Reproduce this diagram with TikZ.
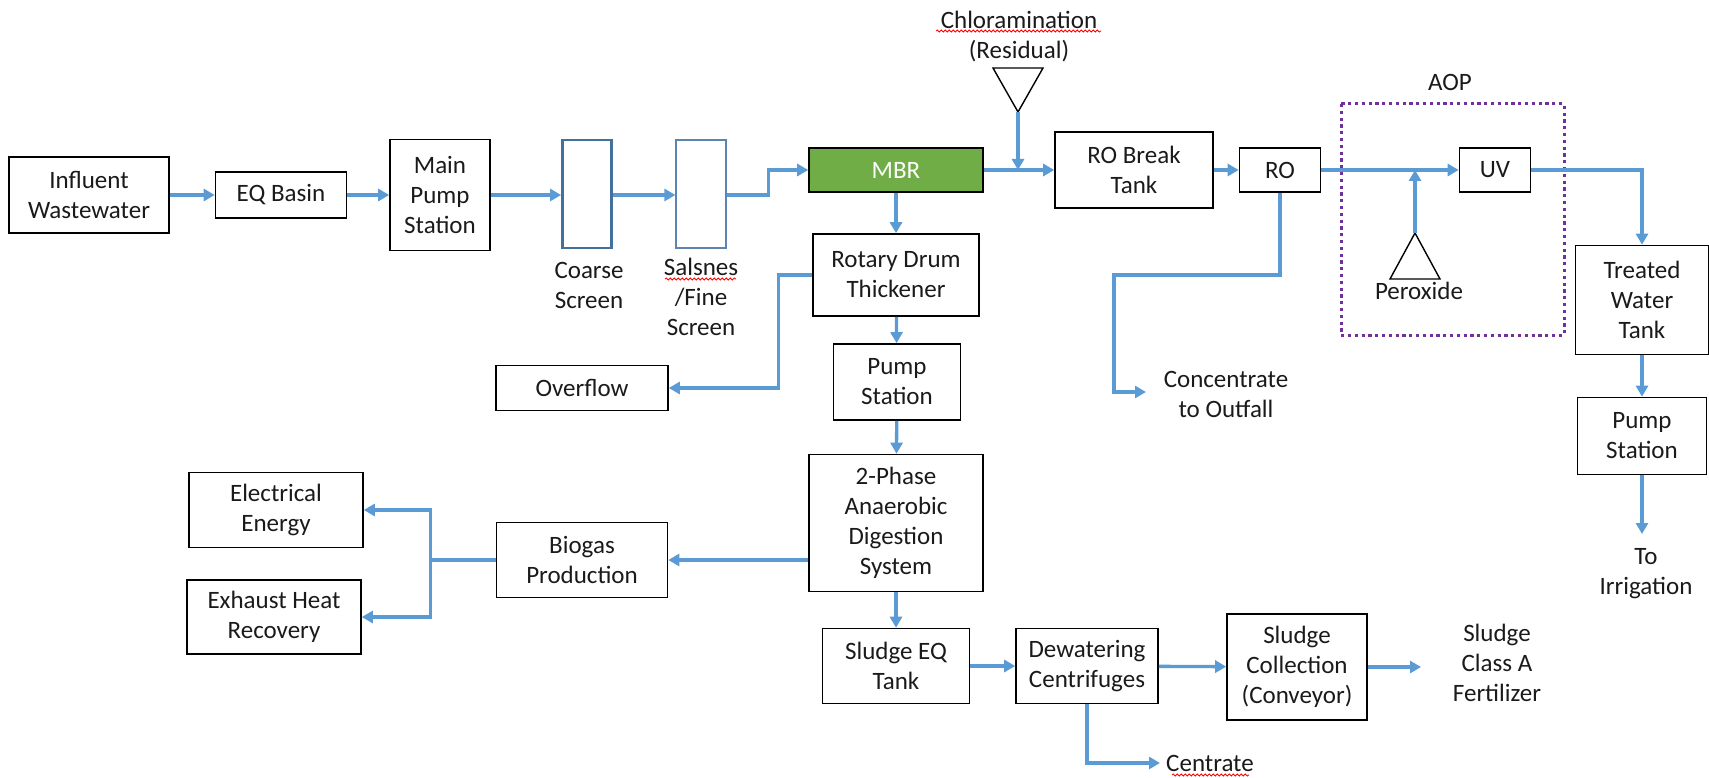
\documentclass[tikz,border=0pt]{standalone}
\usepackage{fontspec}
\setmainfont{Carlito}
\usetikzlibrary{arrows.meta,decorations.pathmorphing}
\definecolor{flowblue}{HTML}{5B9BD5}
\definecolor{screenblue}{HTML}{41719C}
\definecolor{finescreen}{HTML}{5B84B1}
\definecolor{mbrgreen}{HTML}{70AD47}
\definecolor{aoppurple}{HTML}{7030A0}
\definecolor{txt}{HTML}{1A1A1A}
\begin{document}
\begin{tikzpicture}[x=1pt,y=-1pt,
  font=\fontsize{25}{30}\selectfont, text=txt,
  box/.style={draw=black, line width=1.6pt, align=center, inner sep=2pt},
  flow/.style={draw=flowblue, line width=3.3pt, -{Triangle[length=11pt,width=12pt]}},
  lbl/.style={align=center, inner sep=0pt},
  tri/.style={draw=black, line width=1.4pt},
  squig/.style={draw=red, line width=0.8pt, decorate, decoration={snake, amplitude=1.1pt, segment length=4pt}}]
\useasboundingbox (0,0) rectangle (1709,778);

% top row
\node[box, minimum width=160pt, minimum height=76pt] (inf) at (89,195) {Influent\\Wastewater};
\node[box, minimum width=131pt, minimum height=46pt] (eq) at (281,195) {EQ Basin};
\node[box, minimum width=100pt, minimum height=111pt] (mps) at (440,195) {Main\\Pump\\Station};
\node[draw=screenblue, line width=2.8pt, minimum width=49pt, minimum height=108pt, inner sep=0pt] (cs) at (587,194) {};
\node[draw=finescreen, line width=1.2pt, minimum width=50pt, minimum height=108pt, inner sep=0pt] (fs) at (701,194) {};
\node[lbl] (csl) at (589,285) {Coarse\\Screen};
\node[lbl] (fsl) at (701,297) {Salsnes\\/Fine\\Screen};
\node[box, fill=mbrgreen, text=white, minimum width=174pt, minimum height=44pt] (mbr) at (896,170) {MBR};
\node[box, minimum width=158pt, minimum height=76pt] (robt) at (1134,170) {RO Break\\Tank};
\node[box, minimum width=81pt, minimum height=44pt] (ro) at (1280,170) {RO};
\node[box, minimum width=71pt, minimum height=44pt] (uv) at (1495,170) {UV};
\node[box, minimum width=133pt, minimum height=109pt] (tw) at (1642,300) {Treated\\Water\\Tank};
\node[box, minimum width=129pt, minimum height=77pt] (pr) at (1642,436) {Pump\\Station};
\node[lbl] (irr) at (1646,574) {To\\Irrigation};

% chloramination
\node[lbl] (chl) at (1019,37) {Chloramination\\(Residual)};
\draw[tri] (993,68) -- (1043,68) -- (1018,112) -- cycle;
\coordinate (chlapex) at (1018,112);

% AOP
\draw[aoppurple, line width=3pt, dash pattern=on 3.2pt off 3.6pt] (1341,104) rectangle (1564,335);
\node[lbl] (aop) at (1450,82) {AOP};
\draw[tri] (1415,233) -- (1440,279) -- (1390,279) -- cycle;
\coordinate (perapex) at (1415,233);
\node[lbl] (per) at (1419,291) {Peroxide};

% concentrate
\node[lbl] (conc) at (1226,394) {Concentrate\\to Outfall};
\coordinate (conctip) at (1146,392);

% solids train
\node[box, minimum width=166pt, minimum height=82pt] (rot) at (896,275) {Rotary Drum\\Thickener};
\node[box, minimum width=172pt, minimum height=45pt] (ovf) at (582,388) {Overflow};
\node[box, minimum width=127pt, minimum height=76pt] (pm) at (897,382) {Pump\\Station};
\node[box, minimum width=174pt, minimum height=137pt] (dig) at (896,523) {2-Phase\\Anaerobic\\Digestion\\System};
\node[box, minimum width=171pt, minimum height=75pt] (bio) at (582,560) {Biogas\\Production};
\node[box, minimum width=174pt, minimum height=75pt] (elec) at (276,510) {Electrical\\Energy};
\node[box, minimum width=174pt, minimum height=74pt] (exh) at (274,617) {Exhaust Heat\\Recovery};
\node[box, minimum width=147pt, minimum height=75pt] (seq) at (896,666) {Sludge EQ\\Tank};
\node[box, minimum width=142pt, minimum height=75pt] (dew) at (1087,666) {Dewatering\\Centrifuges};
\node[box, minimum width=140pt, minimum height=106pt] (col) at (1297,667) {Sludge\\Collection\\(Conveyor)};
\node[lbl] (fert) at (1497,663) {Sludge\\Class A\\Fertilizer};
\coordinate (fertip) at (1421,667);
\node[lbl] (cent) at (1210,763) {Centrate};
\coordinate (centtip) at (1160,763);

% spell-check squiggles
\draw[squig] (936,31) -- (1101,31);
\draw[squig] (665,279) -- (736,279);
\draw[squig] (1172,775) -- (1249,775);

% flows
\draw[flow] (inf) -- (eq);
\draw[flow] (eq) -- (mps);
\draw[flow] (mps.east) -- (cs.west |- mps.east);
\draw[flow] (cs.east |- mps.east) -- (fs.west |- mps.east);
\draw[flow] (fs.east |- mps.east) -- ++(42,0) |- (mbr.west);
\draw[flow] (mbr) -- (robt);
\draw[flow] (chlapex) -- (chlapex |- mbr.east);
\draw[flow] (robt) -- (ro);
\draw[flow] (ro) -- (uv);
\draw[flow] (perapex) -- (perapex |- uv.west);
\draw[flow] (uv.east) -| (tw.north);
\draw[flow] (tw) -- (pr);
\draw[flow] (pr.south) -- (pr.south |- 0,534);
\draw[flow] (ro.south) |- (1114,275) |- (conctip);
\draw[flow] (mbr) -- (rot);
\draw[flow] (rot.west) -- ++(-34,0) |- (ovf.east);
\draw[flow] (rot) -- (pm);
\draw[flow] (pm) -- (dig);
\draw[flow] (dig.west |- bio.east) -- (bio.east);
\draw[flow] (bio.west) -- ++(-65,0) |- (elec.east);
\draw[flow] (bio.west) -- ++(-65,0) |- (exh.east);
\draw[flow] (dig) -- (seq);
\draw[flow] (seq) -- (dew);
\draw[flow] (dew) -- (col);
\draw[flow] (col.east |- fertip) -- (fertip);
\draw[flow] (dew.south) |- (centtip);
\end{tikzpicture}
\end{document}
